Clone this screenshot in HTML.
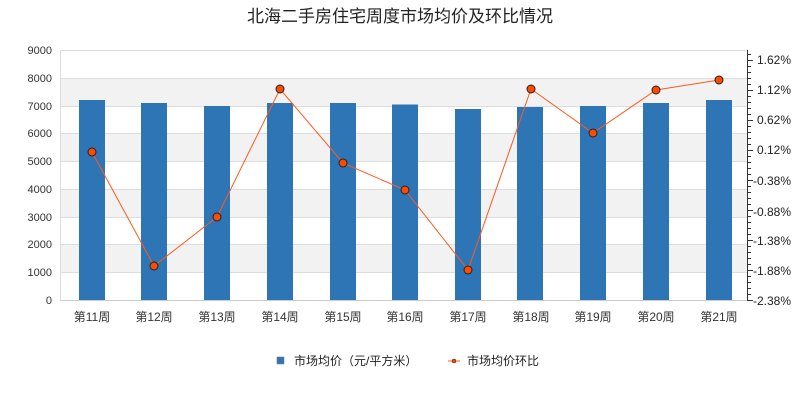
<!DOCTYPE html>
<html><head><meta charset="utf-8"><style>body{margin:0;background:#fff}svg{display:block}text{font-family:"Liberation Sans","Noto Sans CJK SC",sans-serif}</style></head><body>
<svg width="800" height="400" xmlns="http://www.w3.org/2000/svg">
<text x="400" y="22" text-anchor="middle" font-size="17" fill="#222">北海二手房住宅周度市场均价及环比情况</text>
<g fill="#f2f2f2"><rect x="61" y="78" width="686" height="28"/><rect x="61" y="133" width="686" height="28"/><rect x="61" y="189" width="686" height="28"/><rect x="61" y="244" width="686" height="28"/></g>
<g stroke="#ddd" stroke-width="1">
<line x1="61" x2="747" y1="50.5" y2="50.5"/><line x1="61" x2="747" y1="78.5" y2="78.5"/><line x1="61" x2="747" y1="106.5" y2="106.5"/><line x1="61" x2="747" y1="133.5" y2="133.5"/><line x1="61" x2="747" y1="161.5" y2="161.5"/><line x1="61" x2="747" y1="189.5" y2="189.5"/><line x1="61" x2="747" y1="217.5" y2="217.5"/><line x1="61" x2="747" y1="244.5" y2="244.5"/><line x1="61" x2="747" y1="272.5" y2="272.5"/>
<line x1="60.5" x2="60.5" y1="50" y2="300"/>
</g>
<line x1="60" x2="747" y1="300.5" y2="300.5" stroke="#ccc"/>
<g font-size="11" fill="#333" text-anchor="end">
<text x="52" y="54">9000</text><text x="52" y="82">8000</text><text x="52" y="110">7000</text><text x="52" y="137">6000</text><text x="52" y="165">5000</text><text x="52" y="193">4000</text><text x="52" y="221">3000</text><text x="52" y="248">2000</text><text x="52" y="276">1000</text><text x="52" y="304">0</text>
</g>
<line x1="747.5" x2="747.5" y1="50" y2="300" stroke="#333"/>
<path stroke="#333" fill="none" d="M747 300.5h6M747 294.5h4M747 288.5h4M747 282.5h4M747 276.5h4M747 270.5h6M747 264.5h4M747 258.5h4M747 252.5h4M747 246.5h4M747 240.5h6M747 234.5h4M747 228.5h4M747 222.5h4M747 216.5h4M747 210.5h6M747 204.5h4M747 198.5h4M747 192.5h4M747 186.5h4M747 180.5h6M747 174.5h4M747 168.5h4M747 162.5h4M747 156.5h4M747 150.5h6M747 144.5h4M747 138.5h4M747 132.5h4M747 126.5h4M747 120.5h6M747 114.5h4M747 108.5h4M747 102.5h4M747 96.5h4M747 90.5h6M747 84.5h4M747 78.5h4M747 72.5h4M747 66.5h4M747 60.5h6M747 54.5h4"/>
<g font-size="12" fill="#222">
<text x="757" y="64">1.62%</text><text x="757" y="94">1.12%</text><text x="757" y="124">0.62%</text><text x="757" y="154">0.12%</text><text x="753" y="185">-0.38%</text><text x="753" y="216">-0.88%</text><text x="753" y="245">-1.38%</text><text x="753" y="275">-1.88%</text><text x="753" y="305">-2.38%</text>
</g>
<g fill="#2e75b6">
<rect x="79" y="100" width="26" height="200"/><rect x="141" y="103" width="26" height="197"/><rect x="204" y="106" width="26" height="194"/><rect x="267" y="103" width="26" height="197"/><rect x="330" y="103" width="26" height="197"/><rect x="392" y="104.5" width="26" height="195.5"/><rect x="455" y="109" width="26" height="191"/><rect x="517" y="107" width="26" height="193"/><rect x="580" y="106" width="26" height="194"/><rect x="643" y="103" width="26" height="197"/><rect x="706" y="100" width="26" height="200"/>
</g>
<polyline fill="none" stroke="#ff5a1f" stroke-width="1" points="92,152 154,266 217,217 280,89 343,163 405,190 468,270 531,89 593,133 656,90 719,80"/>
<g fill="#ff4a00" stroke="#222" stroke-width="1">
<circle cx="92" cy="152" r="4"/><circle cx="154" cy="266" r="4"/><circle cx="217" cy="217" r="4"/><circle cx="280" cy="89" r="4"/><circle cx="343" cy="163" r="4"/><circle cx="405" cy="190" r="4"/><circle cx="468" cy="270" r="4"/><circle cx="531" cy="89" r="4"/><circle cx="593" cy="133" r="4"/><circle cx="656" cy="90" r="4"/><circle cx="719" cy="80" r="4"/>
</g>
<g font-size="12" fill="#333" text-anchor="middle">
<text x="92" y="321">第11周</text><text x="154" y="321">第12周</text><text x="217" y="321">第13周</text><text x="280" y="321">第14周</text><text x="343" y="321">第15周</text><text x="405" y="321">第16周</text><text x="468" y="321">第17周</text><text x="531" y="321">第18周</text><text x="593" y="321">第19周</text><text x="656" y="321">第20周</text><text x="719" y="321">第21周</text>
</g>
<rect x="277" y="357" width="7" height="7" fill="#2e75b6" stroke="#777" stroke-width="0.5"/>
<text x="294" y="365" font-size="12" fill="#222">市场均价（元/平方米）</text>
<line x1="448" x2="460" y1="361" y2="361" stroke="#ff5a1f"/>
<circle cx="454" cy="361" r="2" fill="#ff4a00" stroke="#222" stroke-width="0.5"/>
<text x="467" y="365" font-size="12" fill="#222">市场均价环比</text>
</svg>
</body></html>
